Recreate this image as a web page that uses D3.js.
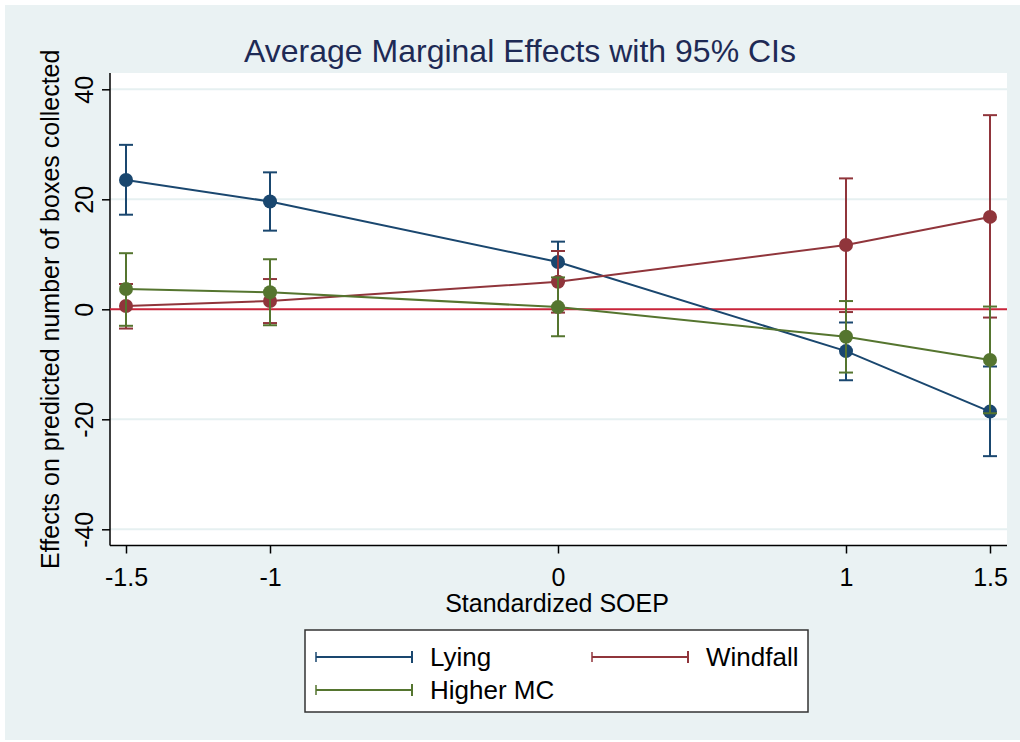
<!DOCTYPE html>
<html><head><meta charset="utf-8">
<script src="https://cdn.jsdelivr.net/npm/d3@7"></script>
<style>body{margin:0;background:#fff}svg{display:block;font-family:"Liberation Sans",Arial,sans-serif}</style>
</head><body><svg id="c" width="1020" height="742"></svg>
<script>
const xValues = [-1.5, -1, 0, 1, 1.5];
const xTicks = [-1.5, -1, 0, 1, 1.5];
const yTicks = [-40, -20, 0, 20, 40];
const seriesNames = ["Lying", "Windfall", "Higher MC"];
const lyingEst = [23.5, 19.6, 8.6, -7.6, -18.6];
const lyingLo = [17.2, 14.3, 5.0, -12.9, -26.7];
const lyingHi = [29.9, 24.9, 12.3, -2.4, -10.4];
const windEst = [0.6, 1.5, 5.0, 11.7, 16.8];
const windLo = [-3.5, -2.5, -0.6, -0.5, -1.5];
const windHi = [4.6, 5.5, 10.6, 23.8, 35.3];
const mcEst = [3.7, 3.1, 0.4, -5.0, -9.2];
const mcLo = [-3.0, -2.9, -4.9, -11.5, -18.9];
const mcHi = [10.2, 9.1, 5.8, 1.5, 0.5];
const colors = ["#1a476f", "#90353b", "#55752f"];

const svg = d3.select("#c");
svg.append("rect").attr("x",5).attr("y",5).attr("width",1015).attr("height",735).attr("fill","#eaf2f3");
const L=110, R=1007, T=73, B=545.5;
svg.append("rect").attr("x",L).attr("y",T).attr("width",R-L).attr("height",B-T).attr("fill","#fff");

const x = d3.scaleLinear().domain([-1.5,1.5]).range([126,990]);
const y = d3.scaleLinear().domain([0,40]).range([309.3,89.3]);

// gridlines
svg.append("g").selectAll("line").data(yTicks.filter(d=>d!==0)).join("line")
  .attr("x1",L).attr("x2",R).attr("y1",d=>y(d)).attr("y2",d=>y(d))
  .attr("stroke","#e6f0f1").attr("stroke-width",2);

// axes
const xa = svg.append("g").attr("transform",`translate(0,${B})`)
  .call(d3.axisBottom(x).tickValues(xTicks).tickSize(8).tickPadding(15).tickFormat(d=>String(d)));
xa.select(".domain").attr("d",`M${L},0H${R}`).attr("stroke","#000").attr("stroke-width",1.5);
xa.selectAll(".tick line").attr("stroke","#000").attr("stroke-width",1.5);
xa.selectAll("text").attr("font-size",25).attr("fill","#000").attr("font-family","Liberation Sans, Arial, sans-serif");

const ya = svg.append("g").attr("transform",`translate(${L},0)`)
  .call(d3.axisLeft(y).tickValues(yTicks).tickSize(8).tickFormat(d=>String(d)));
ya.select(".domain").attr("d",`M0,${T}V${B}`).attr("stroke","#000").attr("stroke-width",1.5);
ya.selectAll(".tick line").attr("stroke","#000").attr("stroke-width",1.5);
ya.selectAll("text").attr("font-size",25).attr("fill","#000").attr("font-family","Liberation Sans, Arial, sans-serif")
  .attr("x",0).attr("y",0).attr("dy",0)
  .attr("text-anchor","middle")
  .attr("transform","translate(-17,0) rotate(-90)");

// zero reference line
svg.append("line").attr("x1",L).attr("x2",R).attr("y1",y(0)).attr("y2",y(0))
  .attr("stroke","#c8243a").attr("stroke-width",2);

const series = [
  {est:lyingEst, lo:lyingLo, hi:lyingHi},
  {est:windEst, lo:windLo, hi:windHi},
  {est:mcEst, lo:mcLo, hi:mcHi}
];
const line = d3.line().x(d=>x(d.x)).y(d=>y(d.v));
series.forEach((s,i)=>{
  const g = svg.append("g");
  const c = colors[i];
  const data = xValues.map((xv,j)=>({x:xv, v:s.est[j], lo:s.lo[j], hi:s.hi[j]}));
  g.selectAll(".ci").data(data).join("line")
    .attr("x1",d=>x(d.x)).attr("x2",d=>x(d.x)).attr("y1",d=>y(d.lo)).attr("y2",d=>y(d.hi))
    .attr("stroke",c).attr("stroke-width",2);
  ["lo","hi"].forEach(k=>{
    g.selectAll(".cap"+k).data(data).join("line")
      .attr("x1",d=>x(d.x)-7).attr("x2",d=>x(d.x)+7).attr("y1",d=>y(d[k])).attr("y2",d=>y(d[k]))
      .attr("stroke",c).attr("stroke-width",2);
  });
  g.append("path").datum(data).attr("d",line).attr("fill","none").attr("stroke",c).attr("stroke-width",2);
  g.selectAll("circle").data(data).join("circle")
    .attr("cx",d=>x(d.x)).attr("cy",d=>y(d.v)).attr("r",7).attr("fill",c);
});

// title
svg.append("text").attr("x",520).attr("y",62).attr("text-anchor","middle")
  .attr("font-size",32).attr("fill","#1e2a55").text("Average Marginal Effects with 95% CIs");
// axis titles
svg.append("text").attr("x",557).attr("y",612).attr("text-anchor","middle")
  .attr("font-size",25).attr("fill","#000").text("Standardized SOEP");
svg.append("text").attr("transform",`translate(59,${(T+B)/2}) rotate(-90)`).attr("text-anchor","middle")
  .attr("font-size",25).attr("fill","#000").text("Effects on predicted number of boxes collected");

// legend
svg.append("rect").attr("x",305).attr("y",630).attr("width",503).attr("height",82)
  .attr("fill","#fff").attr("stroke","#333").attr("stroke-width",1.5);
const legPos = [{x:316,y:657},{x:592,y:657},{x:316,y:690}];
seriesNames.forEach((n,i)=>{
  const p = legPos[i], c = colors[i];
  const g = svg.append("g");
  g.append("line").attr("x1",p.x).attr("x2",p.x+96).attr("y1",p.y).attr("y2",p.y).attr("stroke",c).attr("stroke-width",2);
  g.append("line").attr("x1",p.x).attr("x2",p.x).attr("y1",p.y-5).attr("y2",p.y+5).attr("stroke",c).attr("stroke-width",1.5);
  g.append("line").attr("x1",p.x+96).attr("x2",p.x+96).attr("y1",p.y-6).attr("y2",p.y+6).attr("stroke",c).attr("stroke-width",2);
  g.append("text").attr("x",p.x+114).attr("y",p.y+9).attr("font-size",26).attr("fill","#000").text(n);
});
</script></body></html>
